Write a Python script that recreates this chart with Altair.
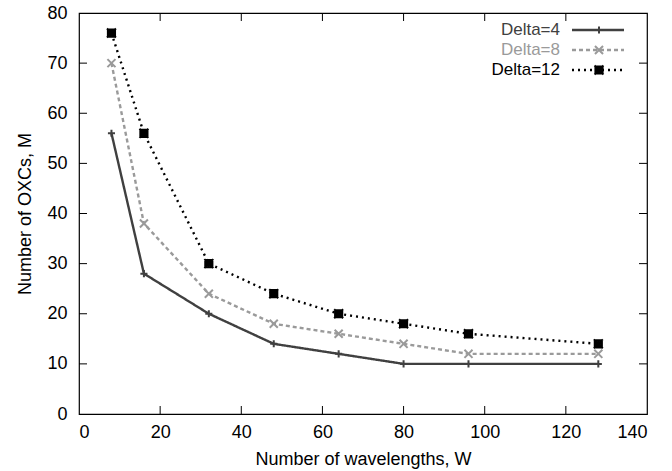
import altair as alt
import pandas as pd

wavelengths = [8, 16, 32, 48, 64, 80, 96, 128]
delta4 = [56, 28, 20, 14, 12, 10, 10, 10]
delta8 = [70, 38, 24, 18, 16, 14, 12, 12]
delta12 = [76, 56, 30, 24, 20, 18, 16, 14]
series_names = ["Delta=4", "Delta=8", "Delta=12"]
x_ticks = [20, 40, 60, 80, 100, 120]
y_ticks = [10, 20, 30, 40, 50, 60, 70]

rows = []
for name, vals in zip(series_names, [delta4, delta8, delta12]):
    for w, m in zip(wavelengths, vals):
        rows.append({"W": w, "M": m, "series": name})
df = pd.DataFrame(rows)
leg = pd.DataFrame({"series": series_names})
xt = pd.DataFrame({"t": x_ticks})
yt = pd.DataFrame({"t": y_ticks})

W, H = 568, 401
FONT = "Liberation Sans"
FS = 18

color = alt.Color("series:N", scale=alt.Scale(domain=series_names,
                  range=["#404040", "#9a9a9a", "#000000"]), legend=None)
dash = alt.StrokeDash("series:N", scale=alt.Scale(domain=series_names,
                      range=[[1, 0], [4, 3], [2, 4]]), legend=None)
shape = alt.Shape("series:N", scale=alt.Scale(domain=series_names, range=[
    "M-1,0L1,0M0,-1L0,1",
    "M-1,-1L1,1M-1,1L1,-1",
    "M-0.8,-0.8L0.8,-0.8L0.8,0.8L-0.8,0.8Z M-1,0L1,0M0,-1L0,1M-1,-1L1,1M-1,1L1,-1",
]), legend=None)
size = alt.Size("series:N", scale=alt.Scale(domain=series_names, range=[50, 80, 40]), legend=None)

xs = alt.Scale(domain=[0, 140], nice=False)
ys = alt.Scale(domain=[0, 80], nice=False)

xaxis = alt.Axis(values=[0, 20, 40, 60, 80, 100, 120, 140], ticks=False, tickSize=0,
                 domain=False, grid=False, labelPadding=9, labelFontSize=FS,
                 labelFont=FONT, labelColor="#000", title="Number of wavelengths, W",
                 titleFont=FONT, titleFontSize=FS, titleFontWeight="normal",
                 titleColor="#000", titlePadding=9)
yaxis = alt.Axis(values=[0, 10, 20, 30, 40, 50, 60, 70, 80], ticks=False, tickSize=0,
                 domain=False, grid=False, labelPadding=12, labelFontSize=FS,
                 labelFont=FONT, labelColor="#000", title="Number of OXCs, M",
                 titleFont=FONT, titleFontSize=FS, titleFontWeight="normal",
                 titleColor="#000", titlePadding=12)

base = alt.Chart(df)
lines = base.mark_line(strokeWidth=2.4).encode(
    x=alt.X("W:Q", scale=xs, axis=xaxis),
    y=alt.Y("M:Q", scale=ys, axis=yaxis),
    color=color, strokeDash=dash, detail="series:N")
points = base.mark_point(filled=False, strokeWidth=2, opacity=1).encode(
    x=alt.X("W:Q", scale=xs), y=alt.Y("M:Q", scale=ys),
    color=color, shape=shape, size=size)

tb = alt.Chart(xt).mark_rule(color="#000", strokeWidth=1).encode(
    x=alt.X("t:Q", scale=xs), y=alt.value(H), y2=alt.value(H - 8))
tt = alt.Chart(xt).mark_rule(color="#000", strokeWidth=1).encode(
    x=alt.X("t:Q", scale=xs), y=alt.value(0), y2=alt.value(8))
tl = alt.Chart(yt).mark_rule(color="#000", strokeWidth=1).encode(
    y=alt.Y("t:Q", scale=ys), x=alt.value(0), x2=alt.value(8))
tr = alt.Chart(yt).mark_rule(color="#000", strokeWidth=1).encode(
    y=alt.Y("t:Q", scale=ys), x=alt.value(W), x2=alt.value(W - 8))

ly = alt.Y("series:N", scale=alt.Scale(type="point", domain=series_names,
           range=[17, 57], padding=0), axis=None)
ltext = alt.Chart(leg).mark_text(align="right", baseline="middle", font=FONT,
                                 fontSize=17).encode(
    x=alt.value(481), y=ly, text="series:N", color=color)
lline = alt.Chart(leg).mark_rule(strokeWidth=2.4).encode(
    x=alt.value(493), x2=alt.value(545), y=ly, color=color, strokeDash=dash)
lpt = alt.Chart(leg).mark_point(filled=False, strokeWidth=2, opacity=1).encode(
    x=alt.value(520), y=ly, color=color, shape=shape, size=size)

main = alt.layer(lines, points, tb, tt, tl, tr)
legend = alt.layer(ltext, lline, lpt)

chart = alt.layer(main, legend).resolve_scale(y="independent").properties(
    width=W, height=H,
    autosize=alt.AutoSizeParams(type="none"),
    padding={"left": 79, "top": 13, "right": 25, "bottom": 57},
    background="white",
).configure_view(stroke="#000", strokeWidth=1.2)

chart.save("out.html", embed_options={"renderer": "svg", "actions": False})
